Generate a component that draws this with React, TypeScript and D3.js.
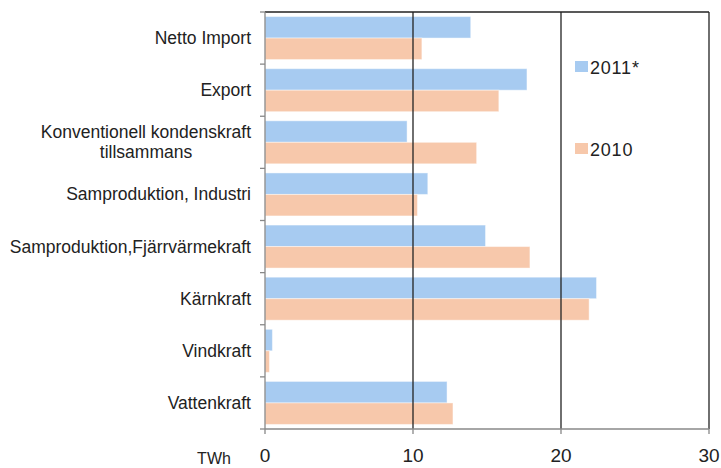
import React from "react";
import * as d3 from "d3";

const categories = [
  ["Netto Import"],
  ["Export"],
  ["Konventionell kondenskraft", "tillsammans"],
  ["Samproduktion, Industri"],
  ["Samproduktion,Fjärrvärmekraft"],
  ["Kärnkraft"],
  ["Vindkraft"],
  ["Vattenkraft"],
];
const values2011 = [13.9, 17.7, 9.6, 11.0, 14.9, 22.4, 0.5, 12.3];
const values2010 = [10.6, 15.8, 14.3, 10.3, 17.9, 21.9, 0.3, 12.7];
const seriesNames = ["2011*", "2010"];
const xTicks = [0, 10, 20, 30];

const W = 721;
const H = 468;
const left = 265;
const right = 709;
const top = 12;
const bottom = 429;
const colors = ["#A7CBF1", "#F7C8AB"];
const font = "'Liberation Sans', Arial, sans-serif";

export default function App() {
  const x = d3.scaleLinear().domain([0, 30]).range([left, right]);
  const keys = categories.map((c) => c.join(" "));
  const y = d3
    .scaleBand<string>()
    .domain(keys)
    .range([top, bottom])
    .paddingInner(0.175)
    .paddingOuter(0.0875);
  const inner = d3
    .scaleBand<string>()
    .domain(seriesNames)
    .range([0, y.bandwidth()]);
  const step = y.step();
  const boundaries = d3.range(keys.length + 1).map((i) => top + i * step);
  const series = [values2011, values2010];

  return (
    <svg
      width={W}
      height={H}
      style={{ position: "absolute", left: 0, top: 0, background: "#fff" }}
    >
      {/* bars */}
      {keys.map((k, i) =>
        series.map((vals, s) => (
          <rect
            key={k + s}
            x={x(0)}
            y={(y(k) as number) + (inner(seriesNames[s]) as number)}
            width={x(vals[i]) - x(0)}
            height={inner.bandwidth()}
            fill={colors[s]}
            stroke="#ffffff"
            strokeOpacity={0.45}
            strokeWidth={1}
          />
        ))
      )}
      {/* gridlines */}
      {xTicks.slice(1).map((t) => (
        <line
          key={"g" + t}
          x1={x(t)}
          x2={x(t)}
          y1={top}
          y2={bottom}
          stroke="#222"
          strokeWidth={1.3}
        />
      ))}
      {/* top border */}
      <line x1={left} x2={right} y1={top} y2={top} stroke="#222" strokeWidth={1.3} />
      {/* axes */}
      <line x1={left} x2={left} y1={top} y2={bottom} stroke="#888" strokeWidth={1.3} />
      <line x1={left} x2={right} y1={bottom} y2={bottom} stroke="#888" strokeWidth={1.3} />
      {boundaries.map((b, i) => (
        <line key={"yt" + i} x1={left - 5} x2={left} y1={b} y2={b} stroke="#888" strokeWidth={1.3} />
      ))}
      {xTicks.map((t) => (
        <g key={"xt" + t}>
          <line x1={x(t)} x2={x(t)} y1={bottom} y2={bottom + 5} stroke="#888" strokeWidth={1.3} />
          <text
            x={x(t)}
            y={462}
            textAnchor="middle"
            fontFamily={font}
            fontSize={19}
            fill="#222"
          >
            {t}
          </text>
        </g>
      ))}
      <text x={214} y={464} textAnchor="middle" fontFamily={font} fontSize={16} fill="#222">
        TWh
      </text>
      {/* category labels */}
      {categories.map((lines, i) => {
        const cy = (y(keys[i]) as number) + y.bandwidth() / 2;
        const lh = 20;
        const start = cy - ((lines.length - 1) * lh) / 2;
        return (
          <text
            key={"c" + i}
            textAnchor="end"
            fontFamily={font}
            fontSize={17.5}
            fill="#222"
          >
            {lines.map((l, j) => (
              <tspan
                key={j}
                x={lines.length > 1 && j === 1 ? 146 : 251}
                y={start + j * lh + 6}
                textAnchor={lines.length > 1 && j === 1 ? "middle" : "end"}
              >
                {l}
              </tspan>
            ))}
          </text>
        );
      })}
      {/* legend */}
      {seriesNames.map((n, s) => (
        <g key={"l" + n} transform={`translate(575, ${s === 0 ? 61 : 143})`}>
          <rect x={0} y={0} width={13} height={11} fill={colors[s]} />
          <text x={15} y={12.5} fontFamily={font} fontSize={18} letterSpacing={0.8} fill="#222">
            {n}
          </text>
        </g>
      ))}
    </svg>
  );
}
